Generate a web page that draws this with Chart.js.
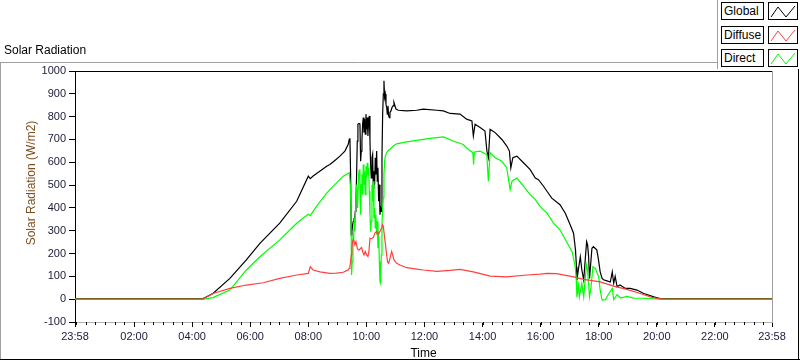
<!DOCTYPE html>
<html><head><meta charset="utf-8">
<script src="https://cdn.jsdelivr.net/npm/chart.js@4.4.0/dist/chart.umd.min.js"></script>
<style>
html,body{margin:0;padding:0;background:#fff;}
#wrap{position:relative;width:800px;height:361px;overflow:hidden;background:#fff;}
#c{position:absolute;left:0;top:0;}
#title{position:absolute;left:4px;top:43px;font:12px "Liberation Sans",Arial,sans-serif;color:#000;white-space:nowrap;}
#legend{position:absolute;left:717px;top:0;width:82px;height:69px;background:#fff;border-left:1px solid #a0a0a0;}
.lbl{position:absolute;left:3px;width:43px;height:18px;box-sizing:border-box;border:1px solid #000;font:12px "Liberation Sans",Arial,sans-serif;line-height:16px;padding-left:2px;color:#000;background:#fff;}
.ico{position:absolute;left:50px;width:30px;height:18px;box-sizing:border-box;border:1px solid #000;background:#fff;}
.ico svg{position:absolute;left:0;top:0;}
</style></head>
<body>
<div id="wrap">
<canvas id="c" width="800" height="361"></canvas>
<div id="title">Solar Radiation</div>
<div id="legend">
  <div class="lbl" style="top:2px">Global</div>
  <div class="ico" style="top:2px"><svg width="28" height="16"><polyline points="2,14 9,4 17,14 26,3" fill="none" stroke="#000" stroke-width="1"/></svg></div>
  <div class="lbl" style="top:26px">Diffuse</div>
  <div class="ico" style="top:26px"><svg width="28" height="16"><polyline points="2,14 9,4 17,14 26,3" fill="none" stroke="#ff4040" stroke-width="1"/></svg></div>
  <div class="lbl" style="top:49px">Direct</div>
  <div class="ico" style="top:49px"><svg width="28" height="16"><polyline points="2,14 9,4 17,14 26,3" fill="none" stroke="#00ff00" stroke-width="1"/></svg></div>
</div>
</div>
<script>
// ---- data (time in minutes after midnight, value in W/m2) ----
const seriesNames = ['Global', 'Diffuse', 'Direct'];

const globalT = [-2,262,266,283,318,352,380,421,456,480,484,490,518,
524.6,534.9,545.3,555.6,562.5,564.6,566.0,567.4,568.7,570.1,571.5,572.9,574.3,575.6,577.0,578.4,579.8,581.2,582.5,583.9,585.3,586.7,588.1,589.4,590.8,592.2,593.6,595.0,596.3,597.7,599.1,600.5,601.8,603.2,604.6,606.0,607.4,608.7,610.1,611.5,612.9,614.3,615.6,617.0,618.4,619.8,621.2,622.5,623.9,625.3,626.7,628.1,629.4,630.8,632.2,633.6,635.0,636.3,637.7,639.1,640.5,641.9,643.2,644.6,646.0,647.4,648.7,650.8,652.9,655.0,657.0,659.1,661.2,666.0,683.2,703.9,717.7,745.3,759.1,772.9,
793.5,807,818,821,824.6,835,845,849,852,855.6,866,880,890,895.5,898.4,902.6,911,924.5,938.4,949,955.5,966,973,983,1000,1011,1021,1028,1032,1034,1035,1038,1042,1045,1049,1052,1055,1057,1059,1061,1066,1069,1076,1079,1083,1087,1090,1097,1104,1108,1111,1114,1118,1124,1135,1145,1159,1173,1194,1207,1215,1438];
const globalV = [3,3,6,25,91,172,245,333,429,539,528,540,583,
590,608,627,649,679,701,705,546,282,297,326,341,356,334,385,414,546,693,767,770,770,767,605,649,693,767,796,730,789,723,811,745,796,715,781,803,693,590,532,620,635,488,561,502,620,546,649,517,576,429,502,370,400,385,620,811,899,957,884,899,855,840,811,847,803,796,818,825,840,847,862,847,833,828,825,828,833,828,825,814,
811,789,781,715,767,752,737,649,620,744,730,700,671,649,575,620,627,598,568,531,524,495,473,443,414,377,326,289,216,142,84,130,186,130,84,170,252,238,190,91,223,230,216,180,120,91,85,80,75,120,70,100,54,62,47,47,40,25,10,3,3,3];

const diffuseT = [-2,262,283,318,352,387,421,456,480,484,490,504,524.6,538.4,552.2,559.1,562.5,564.6,566.0,567.4,568.7,570.1,571.5,572.9,574.3,576.3,578.4,581.2,583.2,585.3,588.1,590.1,592.2,595.0,597.7,600.5,603.2,605.3,607.4,610.8,614.3,617.7,621.2,624.6,628.1,631.5,633.6,635.0,637.0,639.1,641.9,643.9,646.0,648.7,652.2,654.3,657.0,662.5,669.4,683.2,703.9,717.7,745.3,772.9,793.5,821,856,890,932,959,973,993,1028,1049,1083,1111,1138,1166,1190,1207,1215,1438];
const diffuseV = [0,0,25,47,62,72,91,106,113,142,128,120,113,114,118,125,128,135,142,165,194,223,253,260,253,238,253,223,216,216,223,226,209,194,209,194,187,209,267,265,271,290,297,285,297,312,326,319,282,245,194,162,157,179,209,194,172,157,150,138,132,128,122,126,131,120,101,98,106,110,113,112,98,87,76,57,43,25,8,1,0,0];

const directT = [-2,265,283,318,352,380,421,456,469,480,484,497,518,524.6,538.4,552.2,564.6,566.7,568.1,569.4,570.8,572.2,573.6,574.9,576.3,578.4,579.8,581.9,583.9,585.3,586.7,588.1,589.4,590.8,592.2,593.6,595.0,596.3,597.7,599.1,600.5,601.8,603.2,604.6,606.0,607.4,608.7,610.1,611.5,612.9,614.3,615.6,617.0,618.4,619.8,621.2,622.5,623.9,625.3,626.7,628.1,629.4,630.8,632.2,633.6,635.0,636.3,637.7,639.1,641.9,645.3,648.7,655.6,662.5,683.2,703.9,731.5,759.1,779.6,800,810.7,820,821.5,823,835,848.8,852,855.6,866,880,890,897,900.8,911,924.5,938.4,949,959,973,980,986.6,1000,1025,1031.5,1033.6,1035,1038,1040,1045,1049,1054.6,1057,1061,1064,1068,1073,1080,1083,1087,1094,1101,1108,1111,1118,1125,1138,1152,1172,1207,1438];
const directV = [0,0,7,40,128,186,260,333,355,372,366,407,465,480,510,539,554,502,400,106,165,282,253,356,297,429,502,400,546,568,502,370,502,546,458,590,502,561,458,583,532,598,546,576,473,370,297,341,502,429,517,356,400,312,370,282,341,223,297,165,77,69,194,326,400,444,546,605,627,642,652,657,671,681,689,696,705,711,693,678,656,642,590,645,649,634,517,642,620,605,575,480,517,531,495,458,436,407,377,355,333,304,208,142,84,10,60,10,69,10,150,128,10,50,142,135,98,40,-4,-2,25,47,-2,20,5,12,5,4,0,0];

const xTickValues = [-2,120,240,360,480,600,720,840,960,1080,1200,1320,1438];
const xTickLabels = ['23:58','02:00','04:00','06:00','08:00','10:00','12:00','14:00','16:00','18:00','20:00','22:00','23:58'];
const yTickValues = [-100,0,100,200,300,400,500,600,700,800,900,1000];
const minorStep = 20;

// ---- build ----
const FONT = "'Liberation Sans', Arial, sans-serif";
const toXY = (T, V) => T.map((t, i) => ({x: t, y: V[i]}));
const minorTicks = [];
for (let m = 0; m < xTickValues[xTickValues.length - 1]; m += minorStep) minorTicks.push(m);

const framePlugin = {
  id: 'frame',
  afterDraw(chart) {
    const {ctx, chartArea: a} = chart;
    const xs = chart.scales.x;
    ctx.save();
    ctx.lineWidth = 1;
    const ln = (x1, y1, x2, y2, c) => { ctx.strokeStyle = c; ctx.beginPath(); ctx.moveTo(x1, y1); ctx.lineTo(x2, y2); ctx.stroke(); };
    // minor x ticks
    const yb = Math.round(a.bottom);
    minorTicks.forEach(v => {
      const px = Math.round(xs.getPixelForValue(v)) + 0.5;
      ln(px, yb, px, yb + 3, '#000');
    });
    // plot area frame (top black, right gray)
    ln(a.left, Math.round(a.top) + 0.5, a.right + 1, Math.round(a.top) + 0.5, '#000');
    ln(Math.round(a.right) + 0.5, a.top, Math.round(a.right) + 0.5, a.bottom, '#a0a0a0');
    // outer frame
    ln(0.5, 62, 0.5, 360, '#a0a0a0');
    ln(0, 62.5, 717, 62.5, '#a0a0a0');
    ln(0, 359.5, 800, 359.5, '#000');
    ln(798.5, 0, 798.5, 360, '#000');
    // y axis title
    ctx.translate(32, 183);
    ctx.rotate(-Math.PI / 2);
    ctx.fillStyle = '#7a5020';
    ctx.font = '12px ' + FONT;
    ctx.textAlign = 'center';
    ctx.textBaseline = 'middle';
    ctx.fillText('Solar Radiation (W/m2)', 0, 0);
    ctx.restore();
  }
};

new Chart(document.getElementById('c'), {
  type: 'line',
  data: {
    datasets: [
      {label: seriesNames[0], data: toXY(globalT, globalV), borderColor: '#000000', order: 2},
      {label: seriesNames[1], data: toXY(diffuseT, diffuseV), borderColor: '#ff4040', order: 0},
      {label: seriesNames[2], data: toXY(directT, directV), borderColor: '#00ff00', order: 1}
    ]
  },
  options: {
    responsive: false,
    animation: false,
    devicePixelRatio: 1,
    elements: {line: {borderWidth: 1.2, tension: 0, fill: false}, point: {radius: 0}},
    layout: {padding: {left: 0, right: 28, top: 71, bottom: 0}},
    plugins: {legend: {display: false}, tooltip: {enabled: false}, title: {display: false}},
    scales: {
      x: {
        type: 'linear', position: 'bottom', min: xTickValues[0], max: xTickValues[xTickValues.length - 1],
        afterBuildTicks: s => { s.ticks = xTickValues.map(v => ({value: v})); },
        afterFit: s => { s.height = 39; },
        ticks: {autoSkip: false, maxRotation: 0, padding: 3, color: '#1a1a3a', font: {family: FONT, size: 11},
          callback: (v, i) => xTickLabels[i]},
        grid: {drawOnChartArea: false, drawTicks: true, tickLength: 5, tickColor: '#000', tickWidth: 1},
        border: {display: true, color: '#b0b0b0'},
        title: {display: true, text: 'Time', color: '#000', font: {family: FONT, size: 12}, padding: {top: 0, bottom: 0}}
      },
      y: {
        type: 'linear', position: 'left', min: -100, max: 1000,
        afterBuildTicks: s => { s.ticks = yTickValues.map(v => ({value: v})); },
        afterFit: s => { s.width = 75; },
        ticks: {autoSkip: false, padding: 3, color: '#1a1a3a', font: {family: FONT, size: 11},
          callback: v => String(v)},
        grid: {drawOnChartArea: false, drawTicks: true, tickLength: 6, tickColor: '#000'},
        border: {display: true, color: '#000'}
      }
    }
  },
  plugins: [framePlugin]
});
</script>
</body></html>
